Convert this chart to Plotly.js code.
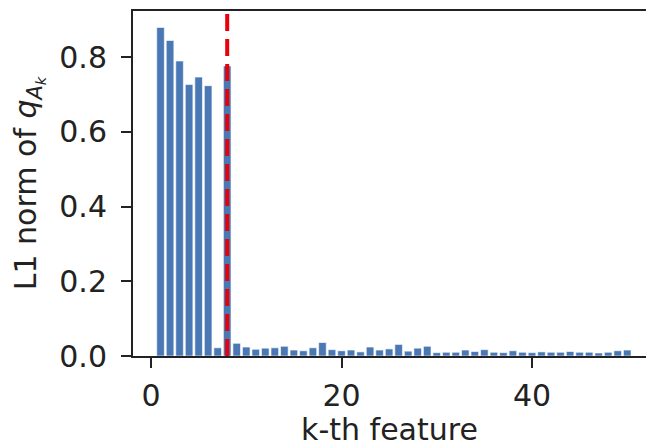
<!DOCTYPE html>
<html>
<head>
<meta charset="utf-8">
<script src="https://cdn.plot.ly/plotly-3.0.1.min.js"></script>
<style>html,body{margin:0;padding:0;background:#fff;}#chart{width:646px;height:447px;}</style>
</head>
<body>
<div id="chart"></div>
<script>
const features = Array.from({length: 50}, (_, i) => i + 1);
const l1Norms = [
  0.880, 0.845, 0.790, 0.727, 0.747, 0.724, 0.022, 0.777, 0.034, 0.024,
  0.018, 0.021, 0.022, 0.026, 0.016, 0.014, 0.022, 0.036, 0.017, 0.014,
  0.016, 0.011, 0.024, 0.016, 0.019, 0.031, 0.013, 0.021, 0.026, 0.009,
  0.010, 0.010, 0.016, 0.012, 0.017, 0.010, 0.009, 0.014, 0.010, 0.009,
  0.011, 0.010, 0.010, 0.012, 0.010, 0.010, 0.008, 0.010, 0.014, 0.016
];
const cutoff = 8;
const xTicks = [0, 20, 40];
const yTicks = [0.0, 0.2, 0.4, 0.6, 0.8];
const yTickText = ['0.0', '0.2', '0.4', '0.6', '0.8'];

const FONT = 'DejaVu Sans, sans-serif';
const INK = '#222222';
const FS = 30;

const trace = {
  type: 'bar',
  x: features,
  y: l1Norms,
  width: 0.8,
  marker: {color: '#4a78b5', line: {color: '#ffffff', width: 0.6}},
  hoverinfo: 'x+y'
};

const layout = {
  width: 646,
  height: 447,
  margin: {l: 133, r: 0, t: 11, b: 91, pad: 0},
  paper_bgcolor: '#ffffff',
  plot_bgcolor: '#ffffff',
  showlegend: false,
  bargap: 0,
  font: {family: FONT, size: FS, color: INK},
  xaxis: {
    range: [-1.89, 51.97],
    tickmode: 'array',
    tickvals: xTicks,
    ticktext: xTicks.map(String),
    ticks: 'outside',
    ticklen: 10,
    tickwidth: 2,
    tickcolor: INK,
    ticklabelstandoff: 2,
    showline: true,
    linecolor: INK,
    linewidth: 2,
    mirror: true,
    showgrid: false,
    zeroline: false,
    tickfont: {family: FONT, size: FS, color: INK},
    title: {text: 'k-th feature', font: {family: FONT, size: FS, color: INK}, standoff: 12}
  },
  yaxis: {
    range: [0, 0.924],
    tickmode: 'array',
    tickvals: yTicks,
    ticktext: yTickText,
    ticks: 'outside',
    ticklen: 10,
    tickwidth: 2,
    tickcolor: INK,
    ticklabelstandoff: 8,
    showline: true,
    linecolor: INK,
    linewidth: 2,
    mirror: false,
    showgrid: false,
    zeroline: false,
    tickfont: {family: FONT, size: FS, color: INK},
    title: {text: 'L1 norm of <i>q</i><sub><i>A</i><sub><i>k</i></sub></sub>', font: {family: FONT, size: FS, color: INK}, standoff: 14}
  },
  shapes: [{
    type: 'line',
    xref: 'x', yref: 'paper',
    x0: cutoff, x1: cutoff, y0: 0, y1: 1,
    line: {color: '#e8000b', width: 4, dash: '17px,8px'}
  }]
};

Plotly.newPlot('chart', [trace], layout, {displayModeBar: false, staticPlot: true});
</script>
</body>
</html>
